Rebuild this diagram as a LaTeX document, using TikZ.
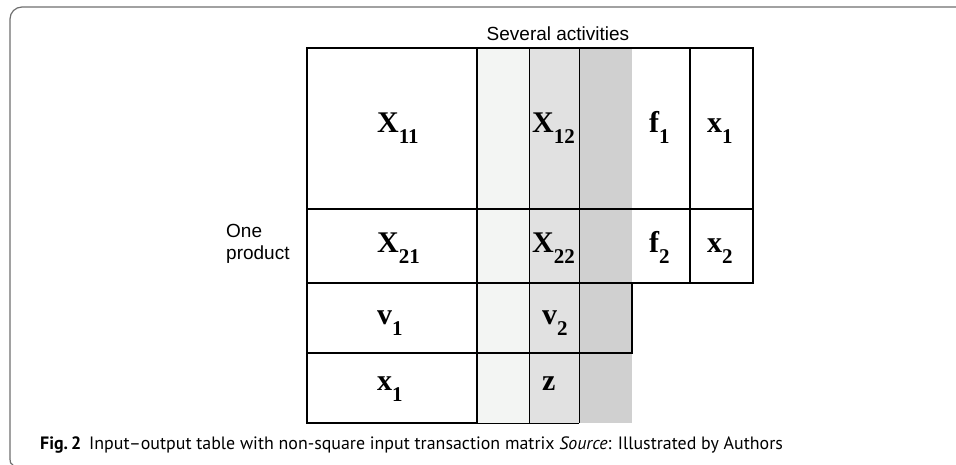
\documentclass[tikz,border=0pt]{standalone}
\usepackage{fontspec}
\setmainfont{Liberation Serif}
\newfontfamily\labfont{Liberation Sans}
\newfontfamily\capfont[Ligatures=TeX]{PT Sans}
\usetikzlibrary{calc}

\definecolor{stripA}{HTML}{F3F5F3}
\definecolor{stripB}{HTML}{E1E1E1}
\definecolor{stripC}{HTML}{D0D0D0}
\definecolor{framegray}{HTML}{6E6E6E}

% bold letter with a deep bold subscript
\newcommand{\cellab}[2]{\bfseries #1\raisebox{-11pt}{\fontsize{21}{21}\selectfont\bfseries #2}}

\begin{document}
\begin{tikzpicture}[x=1pt, y=-1pt,
  thickline/.style={line width=2pt, line cap=rect},
  thinline/.style={line width=0.8pt},
  cellentry/.style={anchor=base west, inner sep=0pt, font=\fontsize{30}{30}\selectfont},
  sidelabel/.style={inner sep=0pt, font=\labfont\fontsize{19}{22}\selectfont}]
\useasboundingbox (0,0) rectangle (956,465);
% frame of the figure
\draw[framegray, line width=1.2pt] (10,459) to[out=-90,in=170] (13,465);
\draw[framegray, line width=1.2pt] (10,459) -- (10,19) arc (180:270:12) -- (956,7);
% shaded activity strips
\fill[stripA] (477,48) rectangle (529,423);
\fill[stripB] (529,48) rectangle (579,423);
\fill[stripC] (579,48) rectangle (632,423);
\foreach \x in {529, 579} {
 \draw[thinline] (\x,48) -- (\x,423);
}
\draw[thinline] (477,423) -- (579,423);
% heavy rules
\draw[thickline] (307,48) rectangle (753,283);
\draw[thickline] (307,209) -- (753,209);
\draw[thickline] (307,283) -- (307,423) -- (477,423);
\draw[thickline] (307,353) -- (632,353) -- (632,283);
\draw[thickline] (477,48) -- (477,423);
\draw[thickline] (690,48) -- (690,283);
% entries
\foreach \nm/\xx/\yy/\mn/\sb in {x11/377/133/X/11, x12/532/133/X/12, f1/649/133/f/1, xa/707/133/x/1,
  x21/377/253/X/21, x22/532/253/X/22, f2/649/253/f/2, xb/707/253/x/2,
  v1/377/324/v/1, v2/542/324/v/2, xc/377/390/x/1} {
 \node[cellentry] (\nm) at (\xx,\yy) {\cellab{\mn}{\sb}};
}
\node[cellentry] (z) at (542,390) {\bfseries z};
% headings
\node[sidelabel, anchor=base] (acts) at (558,41) {Several activities};
\node[sidelabel, anchor=base west, align=left] (prod) at (226,259) {One\\product};
% caption
\node[anchor=base west, inner sep=0pt, font=\capfont\fontsize{17.9}{18}\selectfont] (cap) at (40,449)
 {\textbf{Fig.\,2}\hspace{8pt}Input--output table with non-square input transaction matrix \textit{Source}: Illustrated by Authors};
\end{tikzpicture}
\end{document}
